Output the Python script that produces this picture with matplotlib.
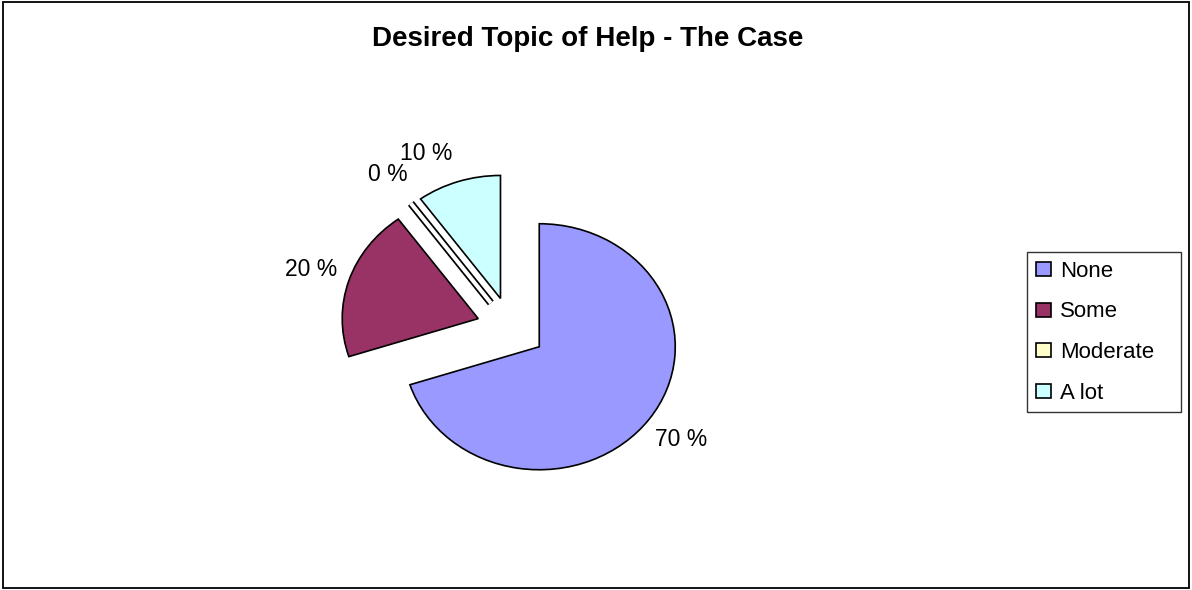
import numpy as np
import matplotlib
matplotlib.use("Agg")
import matplotlib.pyplot as plt
import matplotlib.patches as mpatches
import matplotlib.patheffects as pe

plt.rcParams['font.family'] = ['Liberation Sans', 'DejaVu Sans']

categories = ["None", "Some", "Moderate", "A lot"]
values = [70, 20, 0, 10]
colors = ["#9999FF", "#993366", "#FFFFCC", "#CCFFFF"]
title = "Desired Topic of Help - The Case"

W, H = 1192, 590
fig = plt.figure(figsize=(W / 100, H / 100), dpi=100)

# pie geometry in pixels
cx, cy = 511.2, 328.3
rx, ry = 136.0, 123.0
ax = fig.add_axes([0, 0, 1, 1])
labels = [f"{v} %" for v in values]
wedges, texts = ax.pie(values, colors=colors, labels=labels, startangle=90,
                       counterclock=False, explode=[0.255] * 4,
                       labeldistance=1.29,
                       wedgeprops=dict(edgecolor="black", linewidth=1.2),
                       textprops=dict(fontsize=16.5, color="black"))
ax.set_aspect('auto')
ax.set_xlim((0 - cx) / rx, (W - cx) / rx)
ax.set_ylim((cy - H) / ry, (cy - 0) / ry)
ax.axis('off')

for t in texts:
    t.set_ha('center')
    t.set_va('center')

# shift the "10 %" label up a bit as in the reference
ang = np.deg2rad(108)
ex, ey = 0.255 * np.cos(ang), 0.255 * np.sin(ang)
a2 = np.deg2rad(115)
texts[3].set_position((ex + 1.30 * np.cos(a2), ey + 1.30 * np.sin(a2)))

# zero-size wedge drawn as a double line
wedges[2].set_path_effects([pe.Stroke(linewidth=5.4, foreground='black'),
                            pe.Stroke(linewidth=2.9, foreground='white')])

fig.text(588 / W, 1 - 39 / H, title, ha='center', va='center',
         fontsize=20, fontweight='bold')

handles = [mpatches.Patch(facecolor=c, edgecolor='black', linewidth=1.2)
           for c in colors]
leg = fig.legend(handles, categories, loc='upper left',
                 bbox_to_anchor=(1027 / W, 1 - 412 / H, 154 / W, 160 / H),
                 mode='expand',
                 fontsize=16, frameon=True, fancybox=False,
                 edgecolor='black', handlelength=0.7, handleheight=0.6,
                 handletextpad=0.4, labelspacing=0.88, borderpad=0.4,
                 borderaxespad=0)
leg.get_frame().set_linewidth(1.0)

fig.patches.append(mpatches.Rectangle((2.5 / W, 2 / H), (1189 - 2.5) / W,
                                      (588 - 2) / H, transform=fig.transFigure,
                                      fill=False, edgecolor='black', linewidth=1.3))

fig.savefig("out.png", dpi=100)
